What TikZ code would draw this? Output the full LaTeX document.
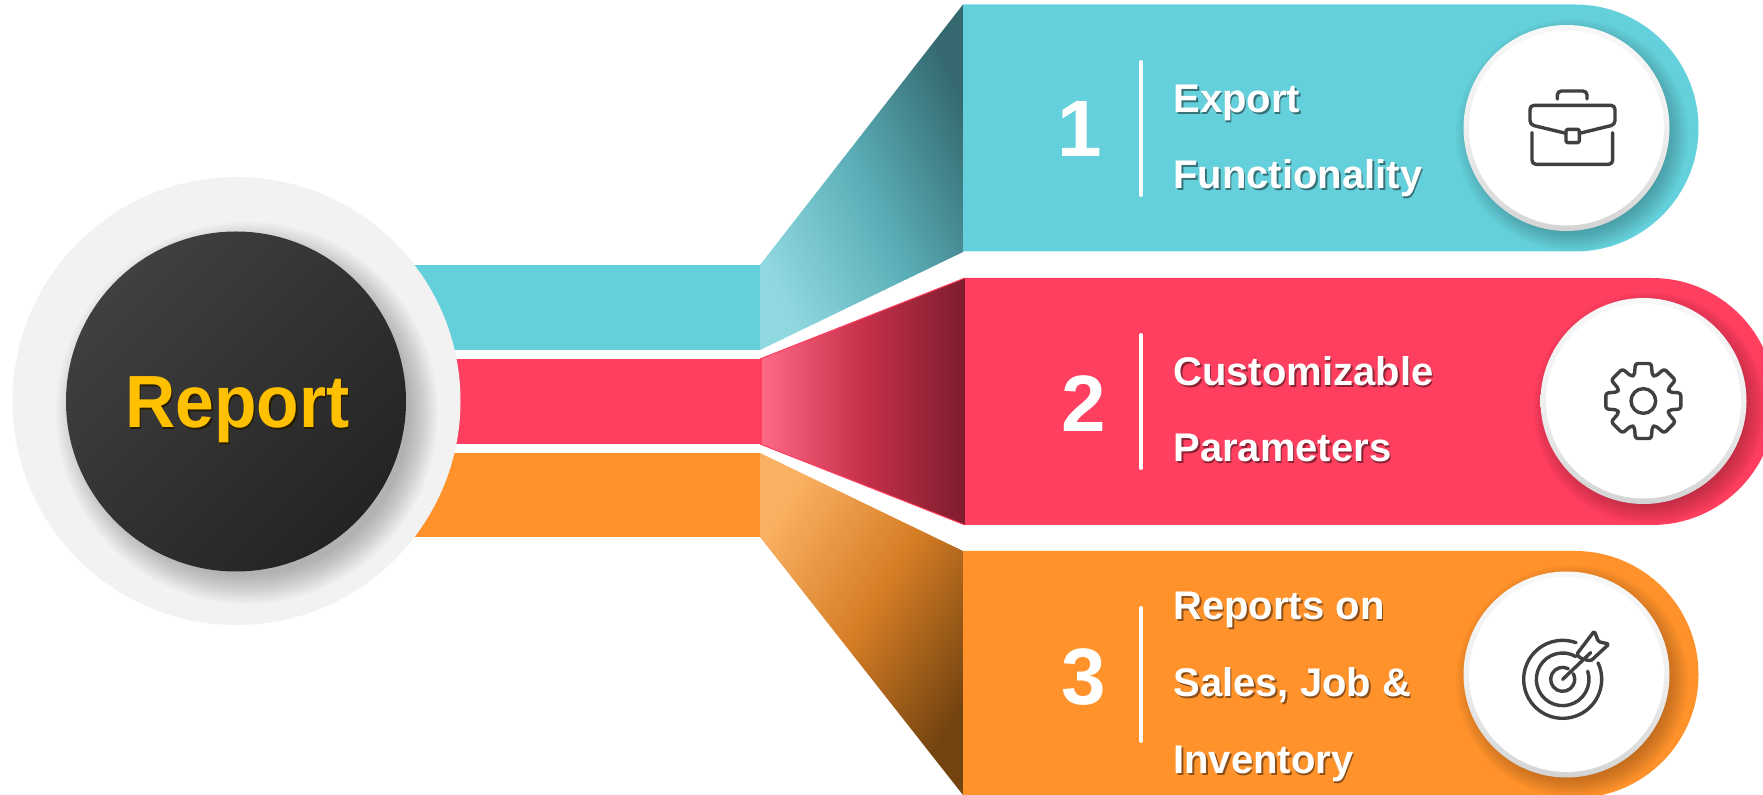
\documentclass[tikz,border=0pt]{standalone}
\usepackage{fontspec}
\setmainfont{Liberation Sans}
\definecolor{tealband}{HTML}{64D0DB}
\definecolor{redband}{HTML}{FF3F5F}
\definecolor{orangeband}{HTML}{FF922B}
\definecolor{ringgray}{HTML}{F2F2F2}
\definecolor{iconink}{HTML}{404040}
\definecolor{reportgold}{HTML}{FFC000}
\definecolor{tealhi}{HTML}{90D8E0}
\definecolor{tealmid}{HTML}{5AAEB7}
\definecolor{tealdk}{HTML}{35696F}
\definecolor{redhi}{HTML}{FF6A87}
\definecolor{redmid}{HTML}{C7304A}
\definecolor{reddk}{HTML}{7D1C2D}
\definecolor{orangehi}{HTML}{F9B060}
\definecolor{orangemid}{HTML}{D57D25}
\definecolor{orangedk}{HTML}{744410}
\newcommand{\shtext}[2]{\rlap{\kern0.8pt\raisebox{-0.8pt}{\textcolor{#1}{#2}}}#2}
\newcommand{\softshadow}[6]{% x y maxradius step colour opacity
  \foreach \k in {0,...,13}{\fill[#5,opacity=#6] (#1,#2) circle[radius={#3-\k*#4}];}}
\newcommand{\whitedisc}[2]{% cx cy
  \shade[top color=white!97!black,bottom color=black!17,middle color=white!94!black] (#1,#2) circle[radius=103];
  \fill[white] (#1,#2) circle[radius=97.5];}
\tikzset{
  x=0.5pt,y=-0.5pt,
  bandtext/.style={anchor=base west,inner sep=0pt,text=white,font=\bfseries\fontsize{20}{24}\selectfont},
  numtext/.style={anchor=base,inner sep=0pt,text=white,font=\bfseries\fontsize{40}{48}\selectfont},
  divider/.style={white,line width=2pt,line cap=round},
  iconline/.style={iconink,line width=1.7pt,line cap=round,line join=round},
  zoomframe/.style={x=0.16667pt,y=-0.16667pt},
}
\begin{document}
\begin{tikzpicture}
\path[clip] (0,0) rectangle (1763,795);
% feeder strips
\fill[tealband] (300,265) rectangle (760,350);
\fill[redband] (300,359) rectangle (760,444);
\fill[orangeband] (300,453) rectangle (760,537);
% funnels
\shade[left color=tealhi,right color=tealdk,middle color=tealmid,shading angle=115]
  (760,265) -- (963,4.5) -- (963,252) -- (760,350) -- cycle;
\shade[left color=redhi,right color=reddk,middle color=redmid]
  (760,359) -- (965,278) -- (965,525) -- (760,444) -- cycle;
\draw[redband,line width=0.5pt] (760,359) -- (965,278) (760,444) -- (965,525);
\fill[redband] (760,359) rectangle (762,444);
\shade[left color=orangehi,right color=orangedk,middle color=orangemid,shading angle=58]
  (760,453) -- (963,551) -- (963,795) -- (760,537) -- cycle;
% bands
\fill[tealband] (963,4.5) -- (1575,4.5) arc[start angle=-90,end angle=90,radius=123.5] -- (963,251.5) -- cycle;
\fill[redband] (965,278) -- (1652,278) arc[start angle=-90,end angle=90,radius=123.5] -- (965,525) -- cycle;
\fill[orangeband] (963,551) -- (1575,551) arc[start angle=-90,end angle=90,radius=123.5] -- (963,798) -- cycle;
% shadows of the white discs
\begin{scope}
\clip (963,4.5) -- (1575,4.5) arc[start angle=-90,end angle=90,radius=123.5] -- (963,251.5) -- cycle;
\softshadow{1572}{135}{116}{1.6}{tealband!40!black}{0.03}
\end{scope}
\begin{scope}
\clip (965,278) -- (1652,278) arc[start angle=-90,end angle=90,radius=123.5] -- (965,525) -- cycle;
\softshadow{1649}{408}{116}{1.6}{redband!40!black}{0.03}
\end{scope}
\begin{scope}
\clip (963,551) -- (1575,551) arc[start angle=-90,end angle=90,radius=123.5] -- (963,798) -- cycle;
\softshadow{1572}{681}{116}{1.6}{orangeband!40!black}{0.03}
\end{scope}
\whitedisc{1566.5}{128}
\whitedisc{1643.5}{401}
\whitedisc{1566.5}{674.5}
% big circle
\fill[ringgray] (236.5,401) circle[radius=224];
\begin{scope}
\clip (236.5,401) circle[radius=224];
\softshadow{247}{413}{191}{2.2}{black}{0.02}
\end{scope}
\shade[top color=black!75,bottom color=black!86,shading angle=45] (236,401.5) circle[radius=170];
% titles
\node[anchor=base,inner sep=0pt,text=reportgold,font=\bfseries\fontsize{37}{44}\selectfont,xscale=0.94] (report) at (237.5,428) {\shtext{black!85!reportgold}{Report}};
% text
\node[numtext] (n1) at (1080,157) {1};
\node[numtext] (n2) at (1084,432) {2};
\node[numtext] (n3) at (1084,705) {3};
\draw[divider] (1141,62) -- (1141,195);
\draw[divider] (1141,335) -- (1141,468);
\draw[divider] (1141,608) -- (1141,741);
\node[bandtext] (t1a) at (1173,113) {\shtext{tealband!55!black}{Export}};
\node[bandtext] (t1b) at (1173,189) {\shtext{tealband!55!black}{Functionality}};
\node[bandtext] (t2a) at (1173,386) {\shtext{redband!55!black}{Customizable}};
\node[bandtext] (t2b) at (1173,462) {\shtext{redband!55!black}{Parameters}};
\node[bandtext] (t3a) at (1173,620) {\shtext{orangeband!55!black}{Reports on}};
\node[bandtext] (t3b) at (1173,697) {\shtext{orangeband!55!black}{Sales, Job \&}};
\node[bandtext] (t3c) at (1173,774) {\shtext{orangeband!55!black}{Inventory}};
% briefcase
\begin{scope}[shift={(1440,0)},zoomframe]
\draw[iconline,rounded corners=2pt] (352,297) -- (352,273) -- (441,273) -- (441,297);
\draw[iconline,rounded corners=2pt] (378,400) -- (270,374) -- (270,316) -- (525,316) -- (525,374) -- (418,400);
\draw[iconline,rounded corners=1pt] (378,388) rectangle (418,428);
\draw[iconline,rounded corners=2pt] (276,398) -- (276,493) -- (518,493) -- (518,398);
\end{scope}
% gear
\begin{scope}[shift={(1520,280)},zoomframe]
\begin{scope}[shift={(370,363)}]
\draw[iconline,rounded corners=1.3pt]
  (-19:82)
  \foreach \a in {0,45,...,315}{ -- ({\a-19}:82) -- ({\a-12}:115) -- ({\a+12}:115) -- ({\a+19}:82)} -- cycle;
\draw[iconline] (0,0) circle[radius=37];
\end{scope}
\end{scope}
% target
\begin{scope}[shift={(1460,560)},zoomframe]
\begin{scope}[shift={(308,358)}]
\draw[iconline] (-70:117) arc[start angle=-70,end angle=-385,radius=117];
\draw[iconline] (-60:79) arc[start angle=-60,end angle=-378,radius=79];
\draw[iconline] (-62:36) arc[start angle=-62,end angle=-388,radius=36];
\end{scope}
\draw[iconline] (308,358) -- (392,278);
\draw[iconline,rounded corners=0.8pt] (350,283) -- (403,213) -- (415,245) -- (447,252) -- (392,303) -- (362,295) -- cycle;
\end{scope}
\end{tikzpicture}
\end{document}
